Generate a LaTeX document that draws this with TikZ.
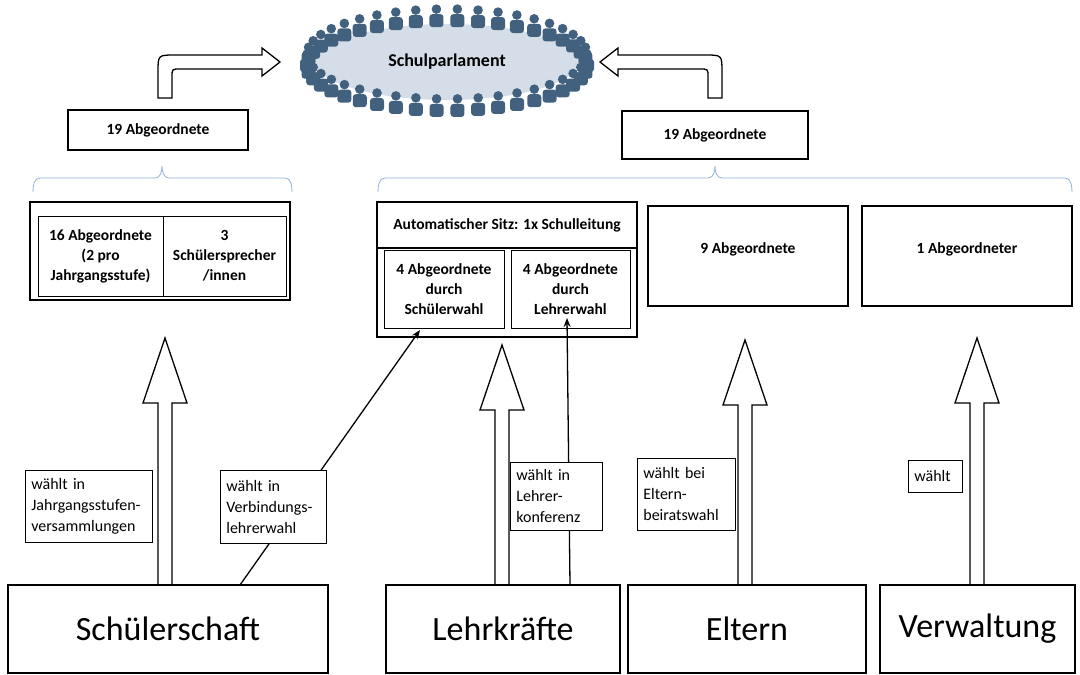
\documentclass[tikz,border=0pt]{standalone}
\usepackage{fontspec}
\setmainfont{Carlito}
\usetikzlibrary{shapes.geometric,arrows.meta}
\definecolor{ppl}{HTML}{41617F}
\definecolor{ell}{HTML}{D5DEE8}
\definecolor{brc}{HTML}{8DB0D6}
\tikzset{
 thick box/.style={draw,line width=2.2pt,fill=white,align=center,font=\bfseries\fontsize{15.5}{20}\selectfont},
 thin box/.style={draw,line width=0.8pt,align=center,inner sep=1pt,font=\bfseries\fontsize{15.5}{20}\selectfont},
 lbl/.style={draw,line width=0.7pt,fill=white,align=left,inner xsep=6pt,inner ysep=5pt,font=\fontsize{16}{21}\selectfont},
 bottom/.style={draw,line width=1.5pt,fill=white,font=\fontsize{34}{38}\selectfont},
 hollow/.style={draw,line width=1.3pt,fill=white},
 brace/.style={draw=brc,line width=0.8pt},
 thinarrow/.style={line width=1.3pt,-{Stealth[length=9pt,width=7pt]}}
}
\newcommand\mybigup[2]{%
 \draw[hollow] (#1-7,585)--(#1-7,#2+65)--(#1-22,#2+65)--(#1,#2)--(#1+22,#2+65)--(#1+7,#2+65)--(#1+7,585);}
\newcommand\curvedarrow{%
 \draw[hollow] (158,98)--(158,72) .. controls (158,55) and (158,55) .. (175,55) -- (262,55) -- (262,48) -- (280,62) -- (262,76) -- (262,69) -- (180,69) .. controls (172,69) and (172,69) .. (172,77) -- (172,98) -- cycle;}
\begin{document}
\begin{tikzpicture}[x=1pt,y=-1pt]
\useasboundingbox (0,0) rectangle (1080,675);
% parliament
\node[ellipse,fill=ell,minimum width=262pt,minimum height=76pt,font=\bfseries\fontsize{18}{22}\selectfont] (parl) at (447,62) {Schulparlament};
\foreach \a in {0,8.57,...,352}{
 \fill[ppl] ({447+140*cos(\a)},{62+45*sin(\a)-8}) circle (4.8);
 \fill[ppl,rounded corners=3pt] ({447+140*cos(\a)-7},{62+45*sin(\a)+10}) rectangle ({447+140*cos(\a)+7},{62+45*sin(\a)-3});
}
% curved block arrows
\curvedarrow
\begin{scope}[shift={(880,0)},xscale=-1]
\curvedarrow
\end{scope}
% 19 boxes
\node[thick box,minimum width=180pt,minimum height=40pt] (l19) at (158,130) {19 Abgeordnete};
\node[thick box,minimum width=186pt,minimum height=48pt] (r19) at (715,135) {19 Abgeordnete};
% braces
\draw[brace] (33,192) to[out=90,in=180] (40,178) -- (155,178) to[out=0,in=-90] (162,166) to[out=-90,in=180] (169,178) -- (285,178) to[out=0,in=90] (292,192);
\draw[brace] (378,192) to[out=90,in=180] (385,178) -- (708,178) to[out=0,in=-90] (715,166) to[out=-90,in=180] (722,178) -- (1065,178) to[out=0,in=90] (1072,192);
% left group
\node[draw,line width=2.2pt,minimum width=260pt,minimum height=98pt] (lg) at (160,251) {};
\node[thin box,minimum width=125pt,minimum height=80pt] (l16) at (100.5,256) {16 Abgeordnete\\(2 pro\\Jahrgangsstufe)};
\node[thin box,minimum width=123pt,minimum height=80pt] (l3) at (224.5,256) {3\\Schülersprecher\\/innen};
% middle group
\node[draw,line width=2.2pt,minimum width=260pt,minimum height=135pt] (mg) at (507,269.5) {};
\node[thick box,minimum width=260pt,minimum height=46pt] (auto) at (507,225) {Automatischer Sitz: 1x Schulleitung};
\node[thin box,minimum width=120pt,minimum height=78pt] (sw) at (444,289) {4 Abgeordnete\\durch\\Schülerwahl};
\node[thin box,minimum width=119pt,minimum height=78pt] (lw) at (570.5,289) {4 Abgeordnete\\durch\\Lehrerwahl};
\node[thick box,minimum width=200pt,minimum height=100pt,anchor=north] (e9) at (748,205) {};
\node[font=\bfseries\fontsize{15.5}{20}\selectfont] at (748,249) {9 Abgeordnete};
\node[thick box,minimum width=210pt,minimum height=100pt,anchor=north] (v1) at (967,205) {};
\node[font=\bfseries\fontsize{15.5}{20}\selectfont] at (967,249) {1 Abgeordneter};
% big arrows
\mybigup{165}{338}
\mybigup{502}{345}
\mybigup{745}{340}
\mybigup{977}{338}
% bottom boxes
\node[bottom,minimum width=320pt,minimum height=88pt] (ss) at (168,629) {Schülerschaft};
\node[bottom,minimum width=234pt,minimum height=88pt] (lk) at (503,629) {Lehrkräfte};
\node[bottom,minimum width=238pt,minimum height=88pt] (el) at (747,629) {Eltern};
\node[bottom,minimum width=195pt,minimum height=88pt] (vw) at (977.5,629) {Verwaltung};
% thin arrows
\coordinate (s1) at (240,585);
\coordinate (t1) at (420,330);
\coordinate (s2) at (570,585);
\coordinate (t2) at (567,318);
\draw[thinarrow] (s1) -- (t1);
\draw[thinarrow] (s2) -- (t2);
% labels
\node[lbl,anchor=north west,text width=115pt,minimum height=72pt] (a1) at (25,470) {wählt in\\Jahrgangsstufen-\\versammlungen};
\node[lbl,anchor=north west,text width=94pt,minimum height=73pt] (a2) at (220,470) {wählt in\\Verbindungs-\\lehrerwahl};
\node[lbl,anchor=north west,text width=80pt,minimum height=68pt] (a3) at (510,462) {wählt in\\Lehrer-\\konferenz};
\node[lbl,anchor=north west,text width=86pt,minimum height=72pt] (a4) at (637,458) {wählt bei\\Eltern-\\beiratswahl};
\node[lbl,anchor=north west,text width=42pt,minimum height=32pt] (a5) at (908,460) {wählt};
\end{tikzpicture}
\end{document}
